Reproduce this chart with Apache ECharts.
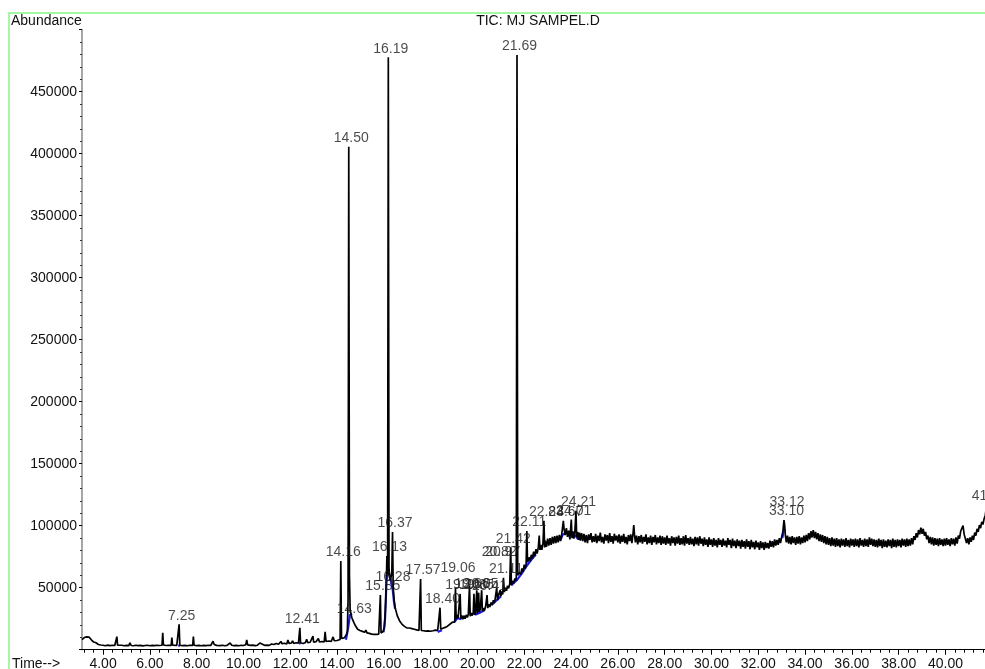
<!DOCTYPE html>
<html>
<head>
<meta charset="utf-8">
<script src="https://cdn.jsdelivr.net/npm/echarts@6/dist/echarts.min.js"></script>
<style>
html,body{margin:0;padding:0;background:#fff;}
#chart{width:985px;height:669px;}
</style>
</head>
<body>
<div id="chart"></div>
<script>
// ---- data ----
const timeTicks = [4, 6, 8, 10, 12, 14, 16, 18, 20, 22, 24, 26, 28, 30, 32, 34, 36, 38, 40];
const abundanceTicks = [50000, 100000, 150000, 200000, 250000, 300000, 350000, 400000, 450000];

const traceEarly = [
[3.10,8200],[3.15,9000],[3.20,9800],[3.25,9200],[3.30,10300],[3.35,9500],[3.40,10100],[3.45,8800],[3.50,8000],[3.55,7000],
[3.60,6200],[3.65,7100],[3.70,5600],[3.75,5000],[3.80,4200],[3.85,4600],[3.90,3800],[3.95,3300],[4.00,3600],[4.10,3200],
[4.20,3700],[4.30,3300],[4.40,3600],[4.50,3400],[4.56,3800],[4.59,10500],[4.62,3700],[4.70,3300],[4.80,3600],[4.90,3200],
[5.00,3500],[5.10,3300],[5.15,5600],[5.20,3400],[5.30,3200],[5.40,3600],[5.50,3300],[5.60,3500],[5.70,3100],[5.80,3400],
[5.90,3600],[6.00,3200],[6.10,3500],[6.20,3300],[6.30,3600],[6.40,3400],[6.52,3600],[6.55,13700],[6.58,3800],[6.70,3400],
[6.80,3600],[6.91,3500],[6.94,9700],[6.97,3600],[7.05,3300],[7.15,3500],[7.22,3400],[7.25,20500],[7.28,3600],[7.40,3300],
[7.50,3500],[7.60,3200],[7.70,3600],[7.83,3500],[7.86,10500],[7.89,3600],[8.00,3300],[8.10,3500],[8.20,3200],[8.30,3500],
[8.40,3300],[8.50,3600],[8.60,3400],[8.70,6800],[8.75,4200],[8.85,3500],[9.00,3300],[9.10,3600],[9.20,3200],[9.30,3500],
[9.43,5400],[9.50,3600],[9.60,3300],[9.70,3500],[9.80,3200],[9.90,3600],[10.00,3400],[10.10,4000],[10.14,7800],[10.18,3900],
[10.30,3500],[10.40,3700],[10.50,3300],[10.60,3600],[10.70,5400],[10.75,3800],[10.90,3500],[11.00,3700],[11.10,3500],[11.20,4600],
[11.30,4200],[11.40,5000],[11.50,4400],[11.60,6600],[11.65,4800],[11.75,5200],[11.85,4600],[11.90,7800],[11.95,5000],[12.05,5400],
[12.10,7200],[12.15,5000],[12.25,5600],[12.35,5200],[12.38,5400],[12.41,17700],[12.44,5600],[12.55,5000],[12.65,5800],[12.70,8400],
[12.75,5600],[12.85,6000],[12.97,11000],[13.00,6000],[13.10,6400],[13.20,9000],[13.25,6200],[13.35,6600],[13.45,6200],[13.49,14500],
[13.53,6600],[13.65,7000],[13.75,6600],[13.83,10300],[13.88,7200],[13.95,7600],[14.00,7400]
];

const traceMid = [
[14.08,7800],[14.13,8200],[14.16,71500],[14.19,9000],[14.23,8500],[14.30,9500],[14.38,11500],[14.44,14500],[14.47,40000],[14.50,405600],
[14.53,60000],[14.56,32000],[14.60,28500],[14.63,26000],[14.67,24000],[14.72,21800],[14.78,19500],[14.84,18500],[14.88,16500],[14.93,18000],
[14.98,15500],[15.03,17000],[15.08,14800],[15.13,16200],[15.18,14000],[15.23,15800],[15.28,13600],[15.33,15000],[15.38,13200],[15.43,14500],
[15.48,12600],[15.53,14000],[15.58,12400],[15.63,13800],[15.68,12300],[15.73,13500],[15.78,12500],[15.82,13200],[15.85,44100],[15.88,13400],
[15.93,14200],[15.98,15000],[16.02,19000],[16.05,26000],[16.08,40000],[16.11,58000],[16.13,75600],[16.16,60000],[16.19,477800],[16.22,66000],
[16.25,58000],[16.28,56000],[16.31,57000],[16.34,62000],[16.37,94900],[16.40,50000],[16.44,40000],[16.48,34000],[16.53,30500],[16.58,27000],
[16.63,25500],[16.68,23000],[16.73,22500],[16.78,20500],[16.83,20800],[16.88,18800],[16.93,19500],[16.98,17600],[17.03,18200]
];

const traceRise = [
[17.10,17500],[17.15,16200],[17.20,17000],[17.25,15800],[17.30,16500],[17.35,15200],[17.40,16000],[17.45,14800],[17.50,15600],[17.54,14900],
[17.57,57000],[17.60,15500],[17.65,14300],[17.70,15300],[17.75,13900],[17.80,15000],[17.85,14000],[17.90,15200],[17.95,13800],[18.00,14900],
[18.05,14000],[18.10,15300],[18.15,14200],[18.20,15800],[18.25,14500],[18.30,15600],[18.37,15000],[18.40,33900],[18.43,16500],[18.47,15500],
[18.52,17300],[18.57,16200],[18.62,18000],[18.67,16800],[18.72,19000],[18.77,17800],[18.82,20500],[18.87,19200],[18.92,22000],[18.97,21000],
[19.00,23500],[19.03,22500],[19.06,50000],[19.09,24500],[19.13,28000],[19.17,25500],[19.22,27000],[19.26,45000],[19.29,25000],[19.33,27500],
[19.38,24500],[19.42,27500],[19.47,25000],[19.52,28000],[19.57,26000],[19.61,28500],[19.66,52000],[19.69,27000],[19.73,29500],[19.78,27500],
[19.82,30000],[19.85,45000],[19.88,28000],[19.92,30500],[19.97,48000],[20.00,29000],[20.05,46000],[20.08,30500],[20.12,32500],[20.18,48000],
[20.21,31000],[20.25,33500],[20.30,31500],[20.35,35000],[20.41,44000],[20.44,33500],[20.48,36500],[20.53,34500],[20.58,38000],[20.63,36000],
[20.68,40000],[20.72,37500],[20.76,41500],[20.82,49700],[20.86,40000],[20.90,44000],[20.97,48000],[21.00,43000],[21.04,47000],[21.08,44500],
[21.11,58000],[21.15,46500],[21.19,50000],[21.24,47500],[21.28,51500],[21.33,49500],[21.38,53000],[21.42,82000],[21.45,52000],[21.50,55500],
[21.55,53500],[21.60,57500],[21.64,55500],[21.66,58000],[21.69,479600]
];

const traceHump = [
[21.72,60000],[21.75,58500],[21.80,62500],[21.85,60500],[21.90,65500],[21.95,63000],[22.00,68500],[22.05,65500],[22.08,69000],[22.11,95700],
[22.14,70500],[22.18,71000],[22.22,74500],[22.26,71500],[22.30,76500],[22.35,73500],[22.40,79000],[22.45,75500],[22.50,81000],[22.55,77500],
[22.60,82500],[22.64,92000],[22.67,80500],[22.70,84500],[22.75,80500],[22.80,86000],[22.84,104000],[22.87,82500],[22.90,88000],[22.95,83000],
[23.00,89500],[23.05,84000],[23.10,90000],[23.15,84500],[23.20,91000],[23.25,85500],[23.30,91500],[23.35,86000],[23.40,92000],[23.45,86500],
[23.50,92500],[23.55,87500],[23.60,93000],[23.64,91500],[23.67,104000],[23.70,97500],[23.75,92500],[23.80,98000],[23.85,91000],[23.90,96000],
[23.95,89000],[24.01,105000],[24.04,90000],[24.08,95500],[24.12,89500],[24.16,94500],[24.21,112000],[24.24,90500],[24.28,95000],[24.32,88500],
[24.36,94500],[24.40,88000],[24.45,94000]
];

const tracePlateau = [
[24.50,87500],[24.55,93500],[24.60,86500],[24.65,92500],[24.70,86000],[24.75,93000],[24.80,88500],[24.85,94000],[24.90,86500],[24.95,91500],
[25.00,87000],[25.05,93500],[25.10,86000],[25.15,92000],[25.20,87500],[25.25,94500],[25.30,86500],[25.35,91000],[25.40,85500],[25.45,93000],
[25.50,88000],[25.55,92500],[25.60,86000],[25.65,94000],[25.70,87000],[25.75,91500],[25.80,85500],[25.85,93500],[25.90,88000],[25.95,92000],
[26.00,86500],[26.05,93000],[26.10,85500],[26.15,92000],[26.20,87000],[26.25,93500],[26.30,86000],[26.35,91000],[26.40,85000],[26.45,92500],
[26.50,87500],[26.55,93000],[26.60,86000],[26.65,94000],[26.68,100500],[26.71,93000],[26.75,86500],[26.80,92000],[26.85,85000],[26.90,91500],
[26.95,86500],[27.00,92500],[27.05,85500],[27.10,91000],[27.15,87000],[27.20,93000],[27.25,85000],[27.30,90500],[27.35,86000],[27.40,92000],
[27.45,84500],[27.50,91000],[27.55,86500],[27.60,92500],[27.65,85000],[27.70,90500],[27.75,86000],[27.80,92000],[27.85,84500],[27.90,91500],
[27.95,85500],[28.00,90500],[28.05,84500],[28.10,92000],[28.15,85500],[28.20,90000],[28.25,84000],[28.30,91500],[28.35,86000],[28.40,90500],
[28.45,84000],[28.50,91000],[28.55,85500],[28.60,92000],[28.65,84500],[28.70,90000],[28.75,85000],[28.80,91500],[28.85,84000],[28.90,92500],
[28.95,85500],[29.00,90000],[29.05,84500],[29.10,91000],[29.15,85000],[29.20,89500],[29.25,83500],[29.30,91000],[29.35,85000],[29.40,90500],
[29.45,84000],[29.50,91500],[29.55,85500],[29.60,89500],[29.65,83500],[29.70,90500],[29.75,84500],[29.80,89000],[29.85,83000],[29.90,90500],
[29.95,84500],[30.00,89000],[30.05,83000],[30.10,90000],[30.15,84000],[30.20,88500],[30.25,82500],[30.30,90000],[30.35,84500],[30.40,88500],
[30.45,83000],[30.50,89500],[30.55,84000],[30.60,88000],[30.65,82500],[30.70,90000],[30.75,84500],[30.80,88500],[30.85,82000],[30.90,89500],
[30.95,83500],[31.00,88000],[31.05,82000],[31.10,89000],[31.15,83500],[31.20,88000],[31.25,81500],[31.30,88500],[31.35,83000],[31.40,87500],
[31.45,81500],[31.50,89000],[31.55,83000],[31.60,87500],[31.65,81000],[31.70,88500],[31.75,82500],[31.80,87000],[31.85,81000],[31.90,88000],
[31.95,82500],[32.00,86500],[32.05,80500],[32.10,87500],[32.15,82000],[32.20,86500],[32.25,80500],[32.30,87000],[32.35,82000],[32.40,86000],
[32.45,81500],[32.50,88000],[32.55,83000],[32.60,87500],[32.65,82500],[32.70,89000],[32.75,84000],[32.80,88500],[32.85,84500],[32.90,90000],
[32.95,86000],[33.00,91000]
];

const traceLate = [
[33.05,95000],[33.10,104600],[33.13,100000],[33.16,92000],[33.20,86500],[33.25,92000],[33.30,85500],[33.35,91000],[33.40,85000],[33.45,91500],
[33.50,86000],[33.55,90500],[33.60,84500],[33.65,91000],[33.70,85500],[33.75,91500],[33.80,85000],[33.85,90500],[33.90,86000],[33.95,92000],
[34.00,86500],[34.05,92500],[34.10,87500],[34.15,94000],[34.20,89000],[34.25,95500],[34.30,90500],[34.35,96500],[34.40,90000],[34.45,95000],
[34.50,89000],[34.55,94000],[34.60,87500],[34.65,93000],[34.70,87000],[34.75,92500],[34.80,86000],[34.85,91500],[34.90,85000],[34.95,91000],
[35.00,84500],[35.05,90000],[35.10,83500],[35.15,90500],[35.20,84000],[35.25,89500],[35.30,83000],[35.35,90000],[35.40,83500],[35.45,89000],
[35.50,82500],[35.55,89500],[35.60,84000],[35.65,89000],[35.70,83000],[35.75,90000],[35.80,83500],[35.85,88500],[35.90,82500],[35.95,89500],
[36.00,84000],[36.05,89000],[36.10,83000],[36.15,89500],[36.20,83500],[36.25,89000],[36.30,82500],[36.35,90000],[36.40,84000],[36.45,88500],
[36.50,83000],[36.55,89500],[36.60,83500],[36.65,89000],[36.70,83000],[36.75,90500],[36.80,84500],[36.85,89500],[36.90,83500],[36.95,89000],
[37.00,83000],[37.05,88500],[37.10,82500],[37.15,89500],[37.20,83500],[37.25,88500],[37.30,82000],[37.35,89000],[37.40,83000],[37.45,88000],
[37.50,82500],[37.55,89000],[37.60,83500],[37.65,88500],[37.70,82000],[37.75,89500],[37.80,83000],[37.85,88500],[37.90,82500],[37.95,89000],
[38.00,83500],[38.05,88500],[38.10,82500],[38.15,89500],[38.20,84000],[38.25,89000],[38.30,83000],[38.35,89500],[38.40,83500],[38.45,89000],
[38.50,84000],[38.55,90000],[38.60,85000],[38.65,91500],[38.70,88500],[38.75,94000],[38.80,90500],[38.85,96500],[38.90,93000],[38.95,98500],
[39.00,93500],[39.05,97500],[39.10,92000],[39.15,95000],[39.20,89000],[39.25,92000],[39.30,86000],[39.35,91000],[39.40,85000],[39.45,90500],
[39.50,84000],[39.55,90000],[39.60,84500],[39.65,89500],[39.70,83500],[39.75,90000],[39.80,84500],[39.85,89000],[39.90,83500],[39.95,89500],
[40.00,84000],[40.05,90000],[40.10,84500],[40.15,89000],[40.20,83500],[40.25,90000],[40.30,85000],[40.35,89500],[40.40,84000],[40.45,90500],
[40.50,85500],[40.55,92000],[40.60,89500],[40.65,95500],[40.70,95500],[40.75,100000],[40.80,93000],[40.85,91500],[40.90,86000],[40.95,90000],
[41.00,85000],[41.05,90500],[41.10,87000],[41.15,92000],[41.20,88500],[41.25,94500],[41.30,92000],[41.35,97500],[41.40,95000],[41.45,100500],
[41.50,98000],[41.55,103000],[41.60,101000],[41.65,105500],[41.70,108000],[41.76,116700],[41.80,108000],[41.85,104500],[41.90,101000],[41.95,99500],
[42.00,97000],[42.05,98000],[42.10,95500]
];

// integrated-peak baselines drawn in blue
const blueSegments = [
[[7.21,3300],[7.29,3300]],
[[12.37,5100],[12.45,5300]],
[[14.38,8000],[14.47,17000],[14.55,28000],[14.64,29000]],
[[15.98,14000],[16.02,18000],[16.05,25000],[16.08,38000],[16.11,55000],[16.15,62000],[16.20,64000],[16.26,58000],[16.32,55000],[16.38,48000],[16.43,39000],[16.48,33000]],
[[18.30,14200],[18.48,15600]],
[[19.00,22000],[19.15,25500],[19.32,24500]],
[[19.90,28200],[20.10,29800],[20.30,31800]],
[[20.60,36000],[20.80,39500],[21.00,43000]],
[[21.45,52000],[21.70,56500],[21.90,61500],[22.10,67500],[22.30,72500],[22.50,77000]],
[[23.55,88500],[23.65,93000],[23.75,93500]],
[[24.08,91000],[24.20,92000],[24.30,89000]],
[[33.03,90000],[33.10,97000],[33.15,96000]]
];

const peakTexts   = ["7.25","12.41","14.16","14.50","14.63","15.85","16.13","16.19","16.28","16.37","17.57","18.40",
                     "19.06","19.26","19.66","19.85","20.05","20.41","20.82","20.97","21.11","21.42","21.69","22.11",
                     "22.84","23.67","24.01","24.21","33.10","33.12","41.76"];
const peakTimes   = [7.25,12.41,14.16,14.50,14.63,15.85,16.13,16.19,16.28,16.37,17.57,18.40,
                     19.06,19.26,19.66,19.85,20.05,20.41,20.82,20.97,21.11,21.42,21.69,22.11,
                     22.84,23.67,24.01,24.21,33.10,33.12,41.76];
const peakHeights = [20500,17700,71500,405600,25500,44100,75600,477800,51400,94900,57000,33900,
                     50000,45000,46000,45000,46000,44000,49700,48000,58000,82000,479600,95700,
                     104000,104000,105000,112000,104600,104600,116700];

// ---- layout / style (not data) ----
const FONT = '"Liberation Sans", Arial, Helvetica, sans-serif';
const labelShiftY = {12: -11, 18: -27, 19: -30, 29: -9};
const X_MIN = 3.1, X_MAX = 42.1;
const minorTicks = [];
for (let k = 8; k <= 105; k++) minorTicks.push(Math.round(k * 0.4 * 100) / 100);

const trace = traceEarly.concat(traceMid, traceRise, traceHump, tracePlateau, traceLate);

const labelData = peakTimes.map((t, i) => ({
  value: [t, peakHeights[i]],
  name: peakTexts[i],
  label: { offset: [2.5, labelShiftY[i] || 0] }
}));

const series = [];
blueSegments.forEach(seg => {
  series.push({
    type: 'line', data: seg, symbol: 'none', silent: true, z: 1,
    lineStyle: { color: '#1a1aff', width: 2.2 }
  });
});
series.push({
  type: 'line', data: trace, symbol: 'none', silent: true, z: 2, sampling: null,
  lineStyle: { color: '#000', width: 1.7 }
});
series.push({
  type: 'scatter', data: labelData, symbol: 'circle', symbolSize: 1, silent: true, z: 3, clip: false,
  itemStyle: { color: 'rgba(0,0,0,0)' },
  label: {
    show: true, position: 'top', distance: 1,
    formatter: p => p.name,
    fontFamily: FONT, fontSize: 14, color: '#1c1c1c'
  }
});

const chart = echarts.init(document.getElementById('chart'), null, { renderer: 'canvas' });
chart.setOption({
  animation: false,
  backgroundColor: '#fff',
  grid: { left: 82, top: 29.7, width: 912.6, height: 620, outerBoundsMode: 'none', containLabel: false },
  xAxis: [{
    type: 'value', min: X_MIN, max: X_MAX,
    axisLine: { show: true, onZero: false, lineStyle: { color: '#000', width: 1 } },
    axisTick: { show: true, customValues: timeTicks, length: 5, lineStyle: { color: '#000' } },
    axisLabel: { customValues: timeTicks, formatter: v => Number(v).toFixed(2), fontFamily: FONT, fontSize: 14, color: '#111', margin: 7 },
    splitLine: { show: false }
  }, {
    type: 'value', min: X_MIN, max: X_MAX, position: 'bottom',
    axisLine: { show: false },
    axisTick: { show: true, customValues: minorTicks, length: 3, lineStyle: { color: '#000' } },
    axisLabel: { show: false },
    splitLine: { show: false }
  }],
  yAxis: {
    type: 'value', min: 0, max: 500000, interval: 50000,
    axisLine: { show: true, lineStyle: { color: '#888', width: 1.5 } },
    axisTick: { show: true, length: 3, lineStyle: { color: '#000' } },
    minorTick: { show: true, splitNumber: 5, length: 2, lineStyle: { color: '#333' } },
    axisLabel: { customValues: abundanceTicks, formatter: v => String(v), fontFamily: FONT, fontSize: 14, color: '#111', margin: 5 },
    splitLine: { show: false }
  },
  graphic: [
    { type: 'rect', shape: { x: 9, y: 13, width: 1100, height: 800 }, style: { fill: 'none', stroke: '#86f586', lineWidth: 1.5 }, silent: true, z: -1 },
    { type: 'text', x: 538, y: 21, style: { text: 'TIC: MJ SAMPEL.D', font: '14px ' + FONT, fill: '#111', textAlign: 'center', textVerticalAlign: 'middle' }, silent: true },
    { type: 'text', x: 11, y: 21, style: { text: 'Abundance', font: '14px ' + FONT, fill: '#111', textAlign: 'left', textVerticalAlign: 'middle' }, silent: true },
    { type: 'text', x: 12, y: 664, style: { text: 'Time-->', font: '14px ' + FONT, fill: '#111', textAlign: 'left', textVerticalAlign: 'middle' }, silent: true }
  ],
  series: series
});
</script>
</body>
</html>
